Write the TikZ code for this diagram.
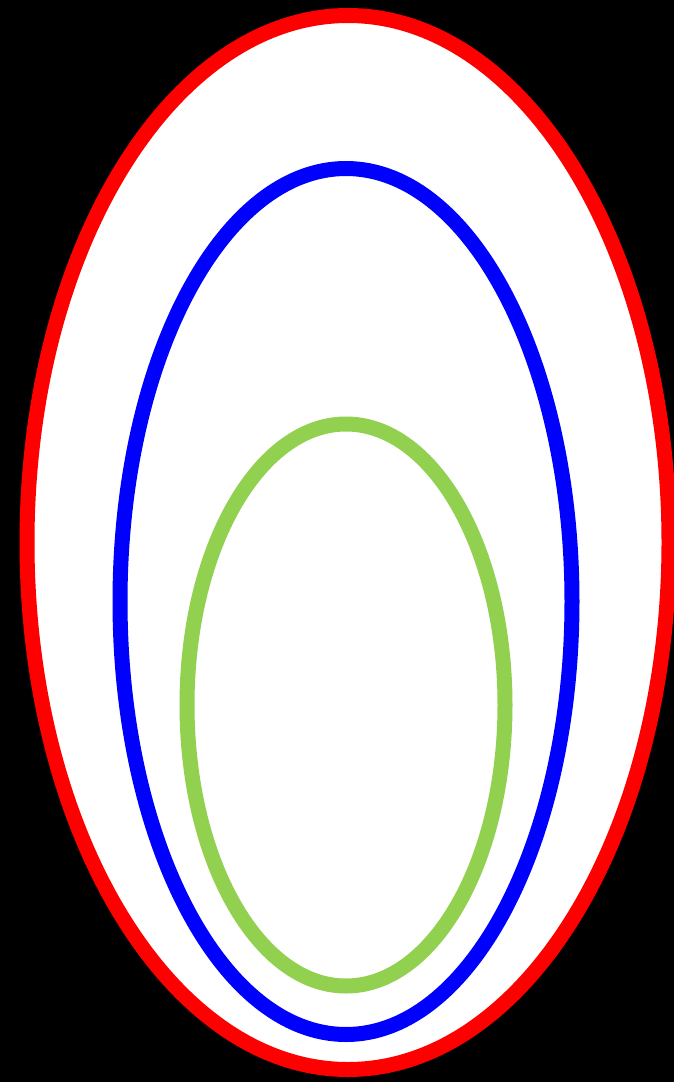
\documentclass[tikz,border=0pt]{standalone}
\definecolor{ringgreen}{HTML}{92D050}
\tikzset{ring/.style={line width=15pt}}
\begin{document}
\begin{tikzpicture}[x=1pt,y=-1pt]
\fill[black] (0,0) rectangle (674,1082);
\useasboundingbox (0,0) rectangle (674,1082);
\draw[ring,red,fill=white] (348,542.5) ellipse [x radius=321, y radius=527];
\draw[ring,blue] (346,601.5) ellipse [x radius=226, y radius=433];
\draw[ring,ringgreen] (346,705) ellipse [x radius=159, y radius=281];
\end{tikzpicture}
\end{document}
